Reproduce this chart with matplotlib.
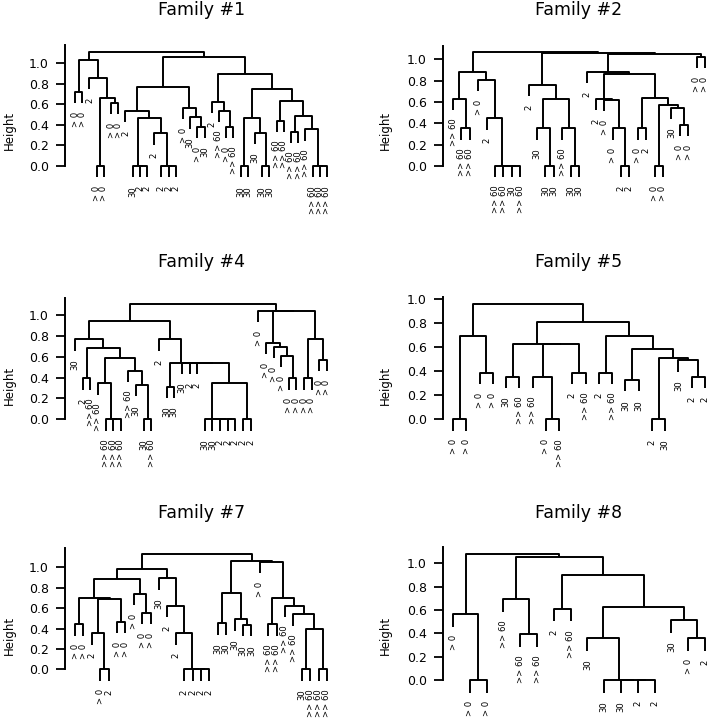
import matplotlib
matplotlib.use("Agg")
import matplotlib.pyplot as plt
from matplotlib.collections import LineCollection
from matplotlib.ticker import FormatStrFormatter

# each tree: (merge height, left, right); a string is a leaf label
fam1 = (1.114,
        (1.032, (0.724, "> 0", "> 0"),
                (0.86, "2", (0.666, (0.0, "> 0", "> 0"), (0.617, "> 0", "> 0")))),
        (1.065,
         (0.766,
          (0.536, "2", (0.464, (0.0, "30", (0.0, "2", "2")),
                               (0.318, "2", (0.0, "2", (0.0, "2", "2"))))),
          (0.568, "> 0", (0.474, "30", (0.383, "> 0", "30")))),
         (0.893,
          (0.627, "2", (0.539, ">> 60", (0.383, "> 0", ">> 60"))),
          (0.747,
           (0.471, (0.0, "30", "30"), (0.325, "30", (0.0, "30", "30"))),
           (0.636, (0.44, ">> 60", ">> 60"),
                   (0.49, (0.334, ">> 60", ">> 60"),
                          (0.357, ">> 60", (0.0, ">> 60", (0.0, ">> 60", ">> 60")))))))))

fam2 = (1.066,
        (0.884, (0.628, ">> 60", (0.353, ">> 60", ">> 60")),
                (0.806, "> 0", (0.447, "2", (0.0, ">> 60", (0.0, ">> 60", (0.0, "30", ">> 60")))))),
        (1.058,
         (0.76, "2", (0.628, (0.353, "30", (0.0, "30", "30")),
                             (0.353, ">> 60", (0.0, "30", "30")))),
         (1.052,
          (0.884, "2",
           (0.86, (0.63, "2", (0.62, "> 0", (0.353, "> 0", (0.0, "2", "2")))),
                  (0.64, (0.353, "> 0", "2"),
                         (0.572, (0.0, "> 0", "> 0"),
                                 (0.547, "30", (0.384, "> 0", "> 0")))))),
          (1.025, "> 0", "> 0"))))

fam4 = (1.102,
        (0.942,
         (0.767, "30",
          (0.687, (0.393, "2", ">> 60"),
                  (0.585, (0.345, ">> 60", (0.0, ">> 60", (0.0, ">> 60", ">> 60"))),
                          (0.466, ">> 60", (0.329, "30", (0.0, "30", ">> 60")))))),
         (0.767, "2",
          (0.543, (0.313, "30", "30"),
                  (0.543, "30", (0.543, "2", (0.543, "2",
                   (0.351, (0.0, "30", (0.0, "30", (0.0, "2", (0.0, "2", "2")))),
                           (0.0, "2", "2")))))))),
        (1.04, "> 0",
         (1.035, (0.735, "> 0", (0.696, "> 0", (0.61, "> 0", (0.393, "> 0", "> 0")))),
                 (0.767, (0.393, "> 0", "> 0"), (0.569, "> 0", "> 0")))))

fam5 = (0.958,
        (0.697, (0.0, "> 0", "> 0"), (0.389, "> 0", "> 0")),
        (0.814,
         (0.628, (0.356, "30", ">> 60"),
                 (0.625, (0.356, ">> 60", (0.0, "> 0", ">> 60")), (0.389, "2", ">> 60"))),
         (0.697, (0.389, "2", ">> 60"),
                 (0.586, (0.328, "30", "30"),
                         (0.508, (0.0, "2", "30"), (0.494, "30", (0.356, "2", "2")))))))

fam7 = (1.127,
        (0.984,
         (0.882,
          (0.696, (0.444, "> 0", "> 0"),
                  (0.686, (0.353, "2", (0.0, "> 0", "2")), (0.467, "> 0", "> 0"))),
          (0.739, "> 0", (0.556, "> 0", "> 0"))),
         (0.892, "30", (0.624, "2", (0.353, "2", (0.0, "2", (0.0, "2", (0.0, "2", "2"))))))),
        (1.065,
         (0.752, (0.451, "30", "30"), (0.493, "30", (0.435, "30", "30"))),
         (1.056, "> 0",
          (0.696, (0.444, ">> 60", ">> 60"),
                  (0.624, ">> 60", (0.542, ">> 60",
                                    (0.392, (0.0, "30", ">> 60"), (0.0, ">> 60", ">> 60"))))))))

fam8 = (1.077,
        (0.566, "> 0", (0.0, "> 0", "> 0")),
        (1.057,
         (0.694, ">> 60", (0.391, ">> 60", ">> 60")),
         (0.9, (0.609, "2", ">> 60"),
               (0.629, (0.357, "30", (0.0, "30", (0.0, "30", (0.0, "2", "2")))),
                       (0.514, "30", (0.357, "> 0", "2"))))))

titles = ["Family #1", "Family #2", "Family #4", "Family #5", "Family #7", "Family #8"]
trees = [fam1, fam2, fam4, fam5, fam7, fam8]

# layout in pixels of the 708x718 picture
FW, FH = 708, 718
spine_x = [65, 443, 65, 443, 65, 443]
zero_y = [166, 166, 419.3, 419.3, 669.3, 680]
unit_px = [102.7, 106.7, 104.3, 120, 102, 116.7]
title_y = [15, 15, 267, 267, 518, 518]
height_y = [130, 130, 385, 385, 635, 635]
PLOT_W = 272
YLO, YHI = -0.6, 1.3


def dendro(ax, tree):
    hang = 0.1 * tree[0]
    segs = []
    leaves = []
    ends = []

    def walk(node):
        if isinstance(node, str):
            leaves.append(node)
            return len(leaves), None
        h, a, b = node
        xa, ya = walk(a)
        xb, yb = walk(b)
        if ya is None:
            ya = h - hang
            ends.append((xa, ya, a))
        if yb is None:
            yb = h - hang
            ends.append((xb, yb, b))
        segs.append([(xa, ya), (xa, h), (xb, h), (xb, yb)])
        return (xa + xb) / 2.0, h

    walk(tree)
    lc = LineCollection(segs, colors="black", linewidths=1.4, clip_on=False)
    ax.add_collection(lc)
    # leaf labels hang below the leaf ends, read bottom to top
    for x, y, lab in ends:
        ax.annotate(lab, (x, y), xytext=(0, -6), textcoords="offset points",
                    rotation=90, ha="center", va="top", fontsize=6.1,
                    annotation_clip=False)
    return len(leaves)


fig = plt.figure(figsize=(FW / 100, FH / 100), dpi=100)

for i in range(6):
    u = unit_px[i]
    bottom = zero_y[i] - YLO * u
    top = zero_y[i] - YHI * u
    ax = fig.add_axes([spine_x[i] / FW, 1 - bottom / FH, PLOT_W / FW, (bottom - top) / FH])
    ax.patch.set_visible(False)
    n = dendro(ax, trees[i])
    ax.set_xlim(1 - 0.04 * (n - 1), n + 0.04 * (n - 1))
    ax.set_ylim(YLO, YHI)

    for s in ["top", "right", "bottom"]:
        ax.spines[s].set_visible(False)
    ax.spines["left"].set_linewidth(1.4)
    ax.spines["left"].set_bounds(0, max(1.0, trees[i][0] + 0.06))
    ax.set_xticks([])
    ax.set_yticks([0, 0.2, 0.4, 0.6, 0.8, 1.0])
    ax.yaxis.set_major_formatter(FormatStrFormatter("%.1f"))
    ax.tick_params(axis="y", direction="out", length=6.5, width=1.3, pad=5, labelsize=9)

    cx = 201.5 if i % 2 == 0 else 578.5
    fig.text(cx / FW, 1 - title_y[i] / FH, titles[i], ha="center", va="baseline", fontsize=12.5)
    hx = 9.5 if i % 2 == 0 else 385
    fig.text(hx / FW, 1 - height_y[i] / FH, "Height", rotation=90, ha="center", va="center",
             fontsize=8.5)

fig.savefig("out.png", dpi=100)
